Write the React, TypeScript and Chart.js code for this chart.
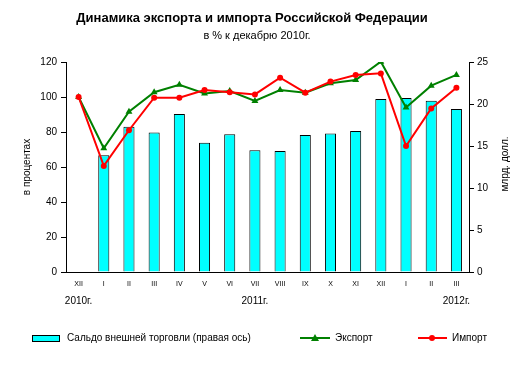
import React, { useEffect, useRef } from "react";
import { Chart, registerables } from "chart.js";

Chart.register(...registerables);

const months = ["XII", "I", "II", "III", "IV", "V", "VI", "VII", "VIII", "IX", "X", "XI", "XII", "I", "II", "III"];
const balance = [null, 13.9, 17.3, 16.6, 18.8, 15.4, 16.4, 14.5, 14.4, 16.3, 16.5, 16.8, 20.6, 20.7, 20.4, 19.4];
const exportIdx = [100, 70.7, 91.6, 102.7, 107, 102, 103.4, 97.7, 104, 102.5, 107.8, 109.7, 120.2, 94, 106.5, 112.6];
const importIdx = [100, 60.6, 81, 99.6, 99.6, 104, 102.7, 101.5, 111, 102.5, 108.8, 112.6, 113.5, 72, 93.5, 105.3];
const years = ["2010г.", "2011г.", "2012г."];
const yearAt = [0, 7, 15];

const title = "Динамика экспорта и импорта Российской Федерации";
const subtitle = "в % к декабрю 2010г.";
const leftTitle = "в процентах";
const rightTitle = "млрд. долл.";
const seriesNames = ["Сальдо внешней торговли (правая ось)", "Экспорт", "Импорт"];

const FONT = "'Liberation Sans', Arial, sans-serif";

const extrasPlugin = {
  id: "extras",
  afterDraw(chart: any) {
    const ctx = chart.ctx;
    const x = chart.scales.x;
    ctx.save();
    ctx.fillStyle = "#000";
    ctx.textAlign = "center";
    ctx.textBaseline = "middle";
    ctx.font = `bold 13px ${FONT}`;
    ctx.fillText(title, 252, 18);
    ctx.font = `11px ${FONT}`;
    ctx.fillText(subtitle, 257, 36);

    // right axis title rotated
    ctx.save();
    ctx.translate(505, 164);
    ctx.rotate(-Math.PI / 2);
    ctx.font = `10px ${FONT}`;
    ctx.fillText(rightTitle, 0, 0);
    ctx.restore();

    // year labels
    ctx.font = `10px ${FONT}`;
    years.forEach((y, i) => {
      ctx.fillText(y, x.getPixelForValue(yearAt[i]), 301);
    });

    // legend
    const ly = 338;
    const ds = chart.data.datasets;
    ctx.textAlign = "left";
    ctx.font = `10px ${FONT}`;
    ctx.fillStyle = ds[0].backgroundColor;
    ctx.fillRect(32.5, 335.5, 27, 6);
    ctx.strokeStyle = "#000";
    ctx.lineWidth = 1;
    ctx.strokeRect(32.5, 335.5, 27, 6);
    ctx.fillStyle = "#000";
    ctx.fillText(seriesNames[0], 67, ly);

    // export
    ctx.strokeStyle = ds[1].borderColor;
    ctx.lineWidth = 2;
    ctx.beginPath();
    ctx.moveTo(300, ly);
    ctx.lineTo(330, ly);
    ctx.stroke();
    ctx.fillStyle = ds[1].borderColor;
    ctx.beginPath();
    ctx.moveTo(315, ly - 4);
    ctx.lineTo(319, ly + 3);
    ctx.lineTo(311, ly + 3);
    ctx.closePath();
    ctx.fill();
    ctx.fillStyle = "#000";
    ctx.fillText(seriesNames[1], 335, ly);

    // import
    ctx.strokeStyle = ds[2].borderColor;
    ctx.beginPath();
    ctx.moveTo(418, ly);
    ctx.lineTo(447, ly);
    ctx.stroke();
    ctx.fillStyle = ds[2].borderColor;
    ctx.beginPath();
    ctx.arc(432, ly, 3, 0, Math.PI * 2);
    ctx.fill();
    ctx.fillStyle = "#000";
    ctx.fillText(seriesNames[2], 452, ly);
    ctx.restore();
  },
};

export default function App() {
  const ref = useRef<HTMLCanvasElement | null>(null);
  useEffect(() => {
    document.body.style.margin = "0";
    const chart = new Chart(ref.current as HTMLCanvasElement, {
      type: "bar",
      data: {
        labels: months,
        datasets: [
          {
            type: "bar",
            label: seriesNames[0],
            data: balance,
            yAxisID: "y1",
            backgroundColor: "#00FFFF",
            borderColor: "#000000",
            borderWidth: 1,
            barPercentage: 0.44,
            categoryPercentage: 1,
            order: 3,
          },
          {
            type: "line",
            label: seriesNames[1],
            data: exportIdx,
            yAxisID: "y",
            borderColor: "#008000",
            backgroundColor: "#008000",
            borderWidth: 2,
            pointStyle: "triangle",
            pointRadius: 4,
            pointBorderWidth: 0,
            tension: 0,
            order: 2,
          },
          {
            type: "line",
            label: seriesNames[2],
            data: importIdx,
            yAxisID: "y",
            borderColor: "#FF0000",
            backgroundColor: "#FF0000",
            borderWidth: 2,
            pointStyle: "circle",
            pointRadius: 3,
            pointBorderWidth: 0,
            tension: 0,
            order: 1,
          },
        ] as any,
      },
      options: {
        responsive: false,
        animation: false,
        devicePixelRatio: 1,
        layout: { padding: { top: 62, left: 0, right: 0, bottom: 0 } },
        plugins: {
          legend: { display: false },
          tooltip: { enabled: false },
          title: { display: false },
        },
        scales: {
          x: {
            offset: true,
            grid: { display: false, drawTicks: false },
            border: { display: true, color: "#000", width: 1 },
            ticks: { color: "#000", font: { family: FONT, size: 7 }, padding: 8, maxRotation: 0, autoSkip: false },
            afterFit: (s: any) => {
              s.height = 96;
            },
          },
          y: {
            position: "left",
            min: 0,
            max: 120,
            ticks: { stepSize: 20, color: "#000", font: { family: FONT, size: 10 }, padding: 4 },
            grid: { display: true, drawOnChartArea: false, drawTicks: true, tickLength: 5, color: "#000" },
            border: { display: true, color: "#000", width: 1 },
            title: { display: true, text: leftTitle, color: "#000", font: { family: FONT, size: 10 }, padding: { top: 21, bottom: 0 } },
            afterFit: (s: any) => {
              s.width = 66;
            },
          },
          y1: {
            position: "right",
            min: 0,
            max: 25,
            ticks: { stepSize: 5, color: "#000", font: { family: FONT, size: 10 }, padding: 3 },
            grid: { display: true, drawOnChartArea: false, drawTicks: true, tickLength: 5, color: "#000" },
            border: { display: true, color: "#000", width: 1 },
            afterFit: (s: any) => {
              s.width = 49;
            },
          },
        },
      } as any,
      plugins: [extrasPlugin],
    });
    return () => chart.destroy();
  }, []);
  return <canvas ref={ref} width={518} height={368} style={{ display: "block" }} />;
}
